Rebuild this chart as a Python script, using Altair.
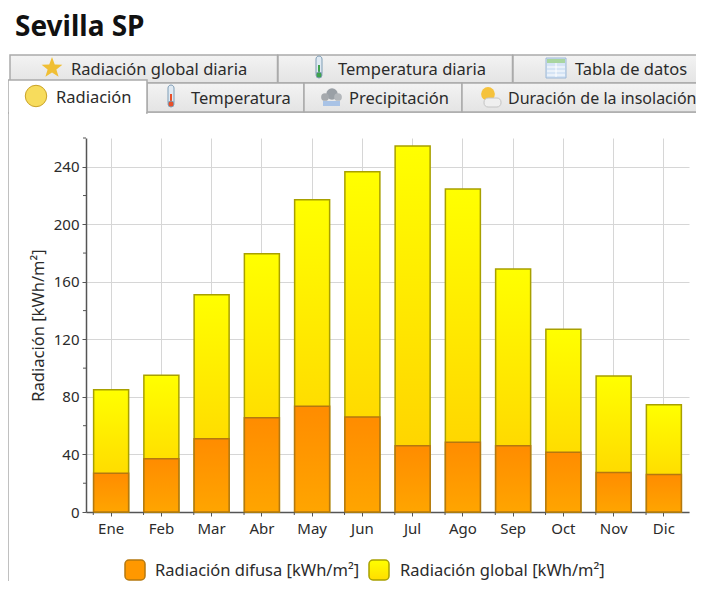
import altair as alt
import pandas as pd

meses = ["Ene", "Feb", "Mar", "Abr", "May", "Jun", "Jul", "Ago", "Sep", "Oct", "Nov", "Dic"]
global_rad = [85, 95, 151, 179.5, 217, 236.5, 254.5, 224.5, 169, 127, 94.5, 74.5]
difusa_rad = [27, 37, 51, 65.5, 73.5, 66, 46, 48.5, 46, 41.5, 27.5, 26]
major_y = [0, 40, 80, 120, 160, 200, 240]
minor_y = [20, 60, 100, 140, 180, 220, 260]

FONT = "Noto Sans"
TXT = "#2b2b2b"
BORDER = "#ababab"
L, T = 86, 138   # page position of the plot's top-left corner

df = pd.DataFrame({"mes": meses, "global": global_rad, "difusa": difusa_rad})
one = alt.Data(values=[{}])


def grad(top, bottom):
    return alt.LinearGradient(
        gradient="linear", x1=0, x2=0, y1=0, y2=1,
        stops=[alt.GradientStop(offset=0, color=top), alt.GradientStop(offset=1, color=bottom)],
    )


def box(x, y, x2, y2, **kw):
    return alt.Chart(one).mark_rect(**kw).encode(
        x=alt.value(x - L), x2=alt.value(x2 - L), y=alt.value(y - T), y2=alt.value(y2 - T))


def line(x, y, x2, y2, color=BORDER, w=1.5):
    return alt.Chart(one).mark_rule(color=color, strokeWidth=w).encode(
        x=alt.value(x - L), x2=alt.value(x2 - L), y=alt.value(y - T), y2=alt.value(y2 - T))


def label(s, x, y, size=16.5, weight="normal", color=TXT):
    return alt.Chart(one).mark_text(text=s, align="left", baseline="alphabetic", font=FONT,
                                    fontSize=size, fontWeight=weight, color=color).encode(
        x=alt.value(x - L), y=alt.value(y - T))


def dot(x, y, size, color, shape="circle", stroke=None):
    kw = {"stroke": stroke, "strokeWidth": 1} if stroke else {"strokeWidth": 0}
    return alt.Chart(one).mark_point(shape=shape, filled=True, fill=color, size=size, opacity=1, **kw).encode(
        x=alt.value(x - L), y=alt.value(y - T))


def tab(x, y, x2, y2, active=False):
    fill = "#ffffff" if active else grad("#f3f3f3", "#e4e4e4")
    return box(x, y, x2, y2, fill=fill, stroke=BORDER, strokeWidth=1.5)


def thermo(x, y, col):
    return [
        box(x - 3, y - 12, x + 3, y + 8, fill="#dfe9f2", stroke="#7f9db5", strokeWidth=1, cornerRadius=3),
        box(x - 1, y - 3, x + 1, y + 7, fill=col),
        dot(x, y + 7, 36, col, stroke="#7f9db5"),
    ]


def table(x, y):
    parts = [box(x, y, x + 20, y + 20, fill="#d5e4f5", stroke="#9db8d6", strokeWidth=1),
             box(x + 1, y + 1, x + 19, y + 5, fill="#a9d5a0")]
    for d in (9, 13, 17):
        parts.append(line(x + 1, y + d, x + 19, y + d, "#ffffff", 1))
    parts.append(line(x + 10, y + 5, x + 10, y + 19, "#ffffff", 1))
    return parts


chrome = [
    line(8, 112, 8, 589),
    line(147, 112, 704, 112),
    tab(10, 55, 277.5, 83), tab(278, 55, 512.5, 83), tab(513, 55, 720, 83),
    tab(147, 83, 304, 112), tab(304, 83, 462, 112), tab(462, 83, 720, 112),
    tab(8, 80, 147, 113, active=True),
    box(9, 108, 146, 116, fill="#ffffff"),
    label("Sevilla SP", 15, 36, 28, "bold", "#111111"),
    label("Radiación global diaria", 71, 75),
    label("Temperatura diaria", 338, 75),
    label("Tabla de datos", 575, 75),
    label("Radiación", 56, 103),
    label("Temperatura", 191, 104),
    label("Precipitación", 349, 104),
    label("Duración de la insolación", 508, 104, 16),
    dot(52, 68, 480, "#f0bf35", "M0,-1L0.25,-0.32L0.95,-0.3L0.4,0.13L0.6,0.8L0,0.42L-0.6,0.8L-0.4,0.13L-0.95,-0.3L-0.25,-0.32Z"),
    dot(36, 96, 460, "#f7dc5c", stroke="#c9a227"),
    dot(332, 94, 130, "#9aa0a6"), dot(325, 97, 60, "#a5a9ad"), dot(338, 97, 60, "#b3b7bb"),
    box(323, 101, 340, 106, fill="#a9c3e6"),
    dot(488, 94, 190, "#f5c23c"),
    box(484, 98, 501, 107, fill="#efefef", stroke="#c4c4c4", strokeWidth=1, cornerRadius=4),
    *thermo(319, 68, "#3fa34d"),
    *thermo(171, 97, "#e8502a"),
    *table(546, 58),
]

x_axis = alt.Axis(labelAngle=0, labelFont=FONT, labelFontSize=15, labelColor=TXT, labelPadding=5,
                  tickSize=4, tickColor="#555555", domainColor="#555555", domainWidth=1.5,
                  gridColor="#d6d6d6", grid=True, title=None)
y_axis = alt.Axis(values=major_y, title="Radiación [kWh/m²]", titleFont=FONT, titleFontSize=16.5,
                  titleFontWeight="normal", titleColor=TXT, titleX=-40, titleY=187,
                  labelFont=FONT, labelFontSize=15, labelColor=TXT, labelPadding=3,
                  tickSize=4, tickColor="#555555", domainColor="#555555", domainWidth=1.5,
                  gridColor="#d6d6d6", grid=True)
x_scale = alt.Scale(paddingInner=0.29, paddingOuter=0.145)
y_scale = alt.Scale(domain=[0, 260], nice=False)
x_enc = alt.X("mes:N", sort=meses, scale=x_scale, axis=x_axis)

base = alt.Chart(df)
bars_global = base.mark_bar(fill=grad("#ffff00", "#ffcc00"), stroke="#a8a000", strokeWidth=1.5, size=35).encode(
    x=x_enc, y=alt.Y("global:Q", scale=y_scale, stack=None, axis=y_axis))
bars_difusa = base.mark_bar(fill=grad("#ff8c00", "#ffa500"), stroke="#b5780f", strokeWidth=1.5, size=35).encode(
    x=x_enc, y=alt.Y("difusa:Q", scale=y_scale, stack=None, axis=y_axis))

minor_y_ticks = alt.Chart(pd.DataFrame({"v": minor_y})).mark_rule(color="#555555", strokeWidth=1).encode(
    x=alt.value(-3), x2=alt.value(0), y=alt.Y("v:Q", scale=y_scale, axis=y_axis))
minor_x_ticks = alt.Chart(pd.DataFrame({"mes": meses})).mark_rule(color="#555555", strokeWidth=1).encode(
    x=alt.X("mes:N", sort=meses, bandPosition=0, scale=x_scale, axis=x_axis), y=alt.value(374), y2=alt.value(377))

legend = [
    box(125, 560, 145, 580, fill="#ff9800", stroke="#b5780f", strokeWidth=1.5, cornerRadius=4),
    box(369, 560, 389, 580, fill=grad("#ffff00", "#ffdd00"), stroke="#a8a000", strokeWidth=1.5, cornerRadius=4),
    label("Radiación difusa [kWh/m²]", 155, 576),
    label("Radiación global [kWh/m²]", 400, 576),
]

chart = alt.layer(*chrome, bars_global, bars_difusa, minor_y_ticks, minor_x_ticks, *legend).properties(
    width=603, height=374,
    autosize=alt.AutoSizeParams(type="none"),
    padding={"left": 78, "top": 130, "right": 7, "bottom": 69},
).configure_view(stroke=None).configure_axis(gridWidth=1)

chart.save("out.html", embed_options={"renderer": "svg", "actions": False})
